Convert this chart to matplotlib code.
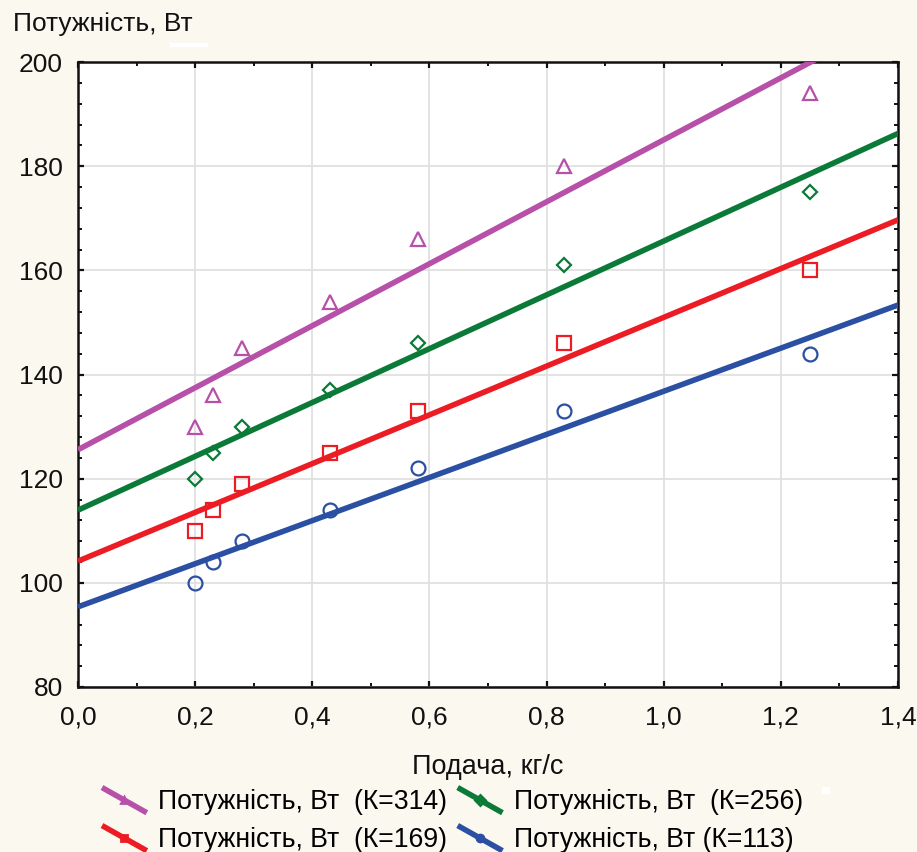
import numpy as np
import matplotlib
matplotlib.use("Agg")
import matplotlib.pyplot as plt
from matplotlib.lines import Line2D
from matplotlib.patches import Rectangle
from matplotlib.legend_handler import HandlerBase
from matplotlib.ticker import MultipleLocator, FuncFormatter

plt.rcParams['font.family'] = ['Liberation Sans', 'DejaVu Sans']

# ---- data ----
feed = [0.20, 0.23, 0.28, 0.43, 0.58, 0.83, 1.25]
power_314 = [130, 136, 145, 154, 166, 180, 194]
power_256 = [120, 125, 130, 137, 146, 161, 175]
power_169 = [110, 114, 119, 125, 133, 146, 160]
power_113 = [100, 104, 108, 114, 122, 133, 144]
labels = ["Потужність, Вт  (К=314)", "Потужність, Вт  (К=256)",
          "Потужність, Вт  (К=169)", "Потужність, Вт (К=113)"]
xlabel = "Подача, кг/с"
ylabel = "Потужність, Вт"

series = [
    (power_314, labels[0], '#b650a8', '^', 10),
    (power_256, labels[1], '#0b7a38', 'D', 7),
    (power_169, labels[2], '#ec1c24', 's', 10),
    (power_113, labels[3], '#2b4fa2', 'o', 10),
]

BG = '#fbf8f0'
FS = 19
fig = plt.figure(figsize=(9.17, 8.52), dpi=100, facecolor=BG)
ax = fig.add_axes([78/917, 1-687/852, (898-78)/917, (687-62)/852])
ax.set_facecolor('white')

x = np.array(feed)
xfit = np.linspace(0, 1.4, 200)
handles = {}
for vals, lab, col, mk, ms in series:
    y = np.array(vals)
    k, b = np.polyfit(x, y, 1)
    ax.plot(xfit, k*xfit + b, color=col, lw=4, solid_capstyle='butt', zorder=3)
    ax.plot(x, y, linestyle='none', marker=mk, markersize=ms, markerfacecolor='none',
            markeredgecolor=col, markeredgewidth=1.6, zorder=4)
    h = Line2D([], [], color=col, lw=4, marker=mk, markersize=5, markerfacecolor='none',
               markeredgecolor=col, markeredgewidth=2)
    handles[lab] = h

ax.set_xlim(0, 1.4)
ax.set_ylim(80, 200)
ax.xaxis.set_major_locator(MultipleLocator(0.2))
ax.xaxis.set_minor_locator(MultipleLocator(0.1))
ax.yaxis.set_major_locator(MultipleLocator(20))
ax.yaxis.set_minor_locator(MultipleLocator(4))
ax.xaxis.set_major_formatter(FuncFormatter(lambda v, p: f"{v:.1f}".replace('.', ',')))
ax.yaxis.set_major_formatter(FuncFormatter(lambda v, p: f"{v:.0f}"))
ax.grid(True, which='major', color='#e0e0e0', lw=1.3, zorder=0)
ax.set_axisbelow(True)
for s in ax.spines.values():
    s.set_linewidth(1.8)
    s.set_color('#111111')
ax.tick_params(which='both', direction='in', top=True, right=True, colors='#111111',
               labelsize=FS, labelcolor='#111111')
ax.tick_params(which='major', length=4, width=1.6)
ax.tick_params(which='minor', length=3, width=1.4)
ax.tick_params(axis='x', which='major', pad=13)
ax.tick_params(axis='y', which='major', pad=11)

ax.set_xlabel(xlabel, fontsize=19.5, labelpad=18, color='#111111')
fig.text(13/917, 1-24/852, ylabel, fontsize=FS, ha='left', va='center', color='#111111')

# white artifacts present in the reference image
fig.patches.append(Rectangle((170/917, 1-47/852), 38/917, 4/852, transform=fig.transFigure,
                             facecolor='white', edgecolor='none'))
fig.patches.append(Rectangle((822/917, 1-794/852), 8/917, 7/852, transform=fig.transFigure,
                             facecolor='white', edgecolor='none'))


class DiagHandler(HandlerBase):
    def create_artists(self, legend, orig, xdescent, ydescent, width, height, fontsize, trans):
        x0, x1 = -xdescent, -xdescent + width
        y0, y1 = -ydescent + height * 1.15, -ydescent - height * 0.2
        ln = Line2D([x0, x1], [y0, y1], color=orig.get_color(), lw=orig.get_linewidth(),
                    solid_capstyle='butt')
        ln.set_transform(trans)
        mk = Line2D([(x0 + x1) / 2], [(y0 + y1) / 2], linestyle='none', marker=orig.get_marker(),
                    markersize=orig.get_markersize(), markerfacecolor='none',
                    markeredgecolor=orig.get_color(), markeredgewidth=orig.get_markeredgewidth())
        mk.set_transform(trans)
        return [ln, mk]


order = [labels[0], labels[2], labels[1], labels[3]]
leg = fig.legend([handles[l] for l in order], order, loc='upper left',
                 bbox_to_anchor=(102/917, 1-789/852), ncol=2, frameon=False,
                 fontsize=19.2, handlelength=1.68, handletextpad=0.42, columnspacing=0.4,
                 labelspacing=0.45, borderpad=0, borderaxespad=0,
                 handler_map={Line2D: DiagHandler()})

fig.savefig('out.png', dpi=100, facecolor=BG)
